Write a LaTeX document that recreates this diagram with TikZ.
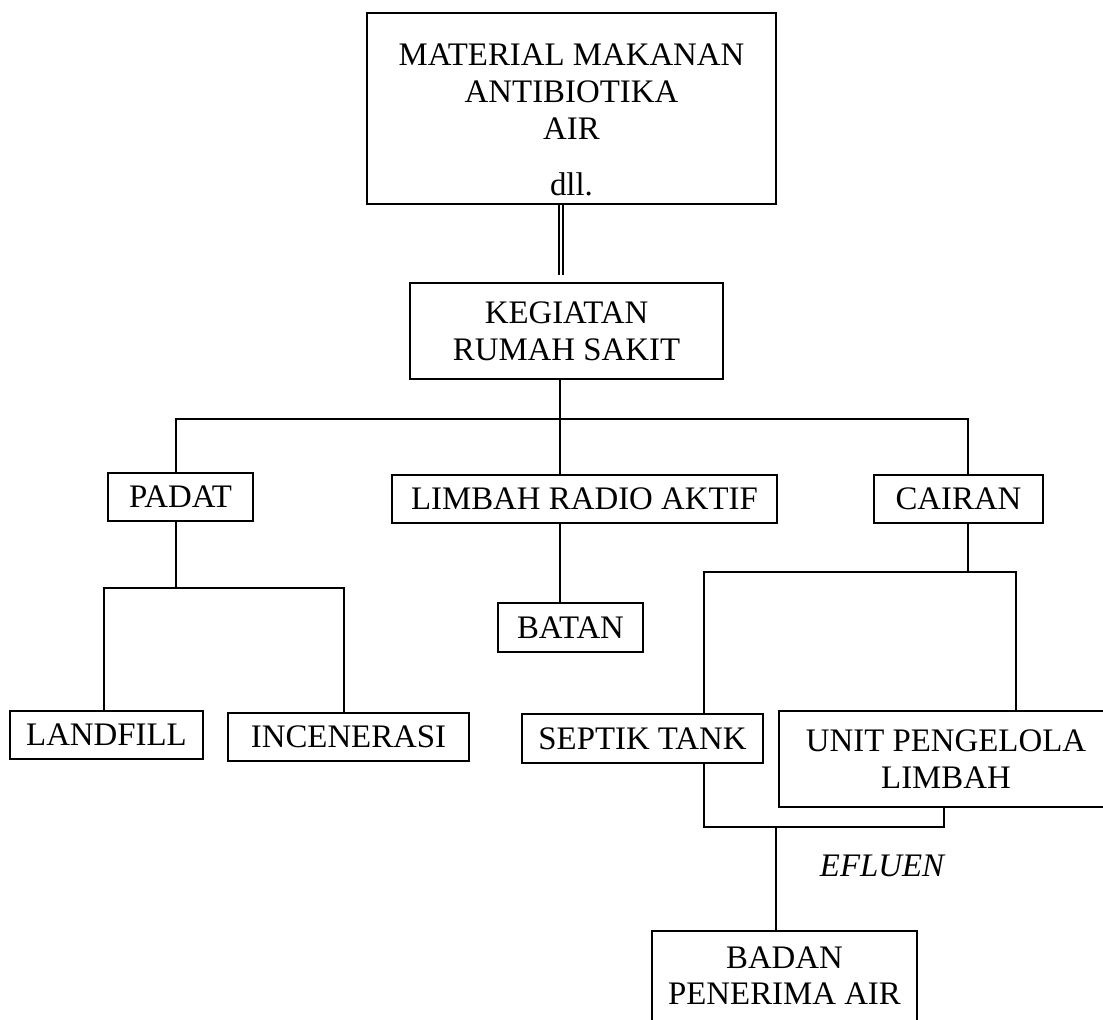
\documentclass[tikz,border=0pt]{standalone}
\usepackage{fontspec}
\setmainfont{Liberation Serif}
\usetikzlibrary{positioning}

\begin{document}
\begin{tikzpicture}[
  x=0.02cm, y=-0.02cm,
  box/.style={draw, line width=1.15pt, inner sep=0.16cm, align=center,
              minimum height=0.96cm, font=\fontsize{18.7}{21}\selectfont},
  conn/.style={line width=1.15pt},
  dbl/.style={double, line width=0.8pt, double distance=0.05cm}
]
  \useasboundingbox (0,0) rectangle (1103,1020);

  % input and hospital
  \node[box, anchor=north, minimum width=8.18cm, minimum height=0pt] (input) at (571.5,12)
    {\rule{0pt}{0.9cm}MATERIAL MAKANAN\\ANTIBIOTIKA\\AIR\\[0.38cm]dll.};
  \node[box, minimum width=6.26cm, minimum height=1.92cm] (rs) at (566.5,331)
    {KEGIATAN\\RUMAH SAKIT};

  % waste types
  \node[box, minimum width=2.9cm] (padat) at (180.5,497) {PADAT};
  \node[box, minimum width=7.7cm] (radio) at (584.5,499) {LIMBAH RADIO AKTIF};
  \node[box, minimum width=3.38cm] (cairan) at (958.5,499) {CAIRAN};

  % treatment
  \node[box, minimum width=2.9cm, minimum height=0.98cm] (batan) at (570.5,627.5) {BATAN};
  \node[box, minimum width=3.86cm] (landfill) at (106.5,735) {LANDFILL};
  \node[box, minimum width=4.82cm] (incen) at (348.5,737) {INCENERASI};
  \node[box, minimum width=4.82cm, minimum height=0.98cm] (septik) at (642.5,738.5) {SEPTIK TANK};
  \node[box, minimum width=6.7cm, minimum height=1.92cm] (unit) at (946,759)
    {UNIT PENGELOLA\\LIMBAH};
  \node[box, anchor=north, minimum width=5.3cm, minimum height=0pt] (badan) at (784.5,930)
    {\rule{0pt}{0.58cm}BADAN\\PENERIMA AIR\rule[-0.6cm]{0pt}{0.6cm}};
  \node[font=\fontsize{18.7}{21}\selectfont\itshape] (efluen) at (882,866) {EFLUEN};

  % junctions
  \coordinate (j0) at (561,275);
  \coordinate (j1) at (560,419);
  \coordinate (j1l) at (176,419);
  \coordinate (j1r) at (968,419);
  \coordinate (j2) at (176,588);
  \coordinate (j2l) at (104,588);
  \coordinate (j2r) at (344,588);
  \coordinate (j3l) at (704,572);
  \coordinate (j3r) at (1016,572);
  \coordinate (j4) at (776,827);
  \coordinate (j4l) at (704,827);
  \coordinate (j4r) at (944,827);

  % connectors
  \draw[dbl] (j0 |- input.south) -- (j0);
  \draw[conn] (j1 |- rs.south) -- (j1);
  \draw[conn] (j1l |- padat.north) -- (j1l) -- (j1r) -- (j1r |- cairan.north);
  \draw[conn] (j1) -- (j1 |- radio.north);
  \draw[conn] (j2 |- padat.south) -- (j2);
  \draw[conn] (j2l |- landfill.north) -- (j2l) -- (j2r) -- (j2r |- incen.north);
  \draw[conn] (j1 |- radio.south) -- (j1 |- batan.north);
  \draw[conn] (j1r |- cairan.south) -- (j1r |- j3l);
  \draw[conn] (j3l |- septik.north) -- (j3l) -- (j3r) -- (j3r |- unit.north);
  \draw[conn] (j4l |- septik.south) -- (j4l) -- (j4r) -- (j4r |- unit.south);
  \draw[conn] (j4) -- (j4 |- badan.north);
\end{tikzpicture}
\end{document}
